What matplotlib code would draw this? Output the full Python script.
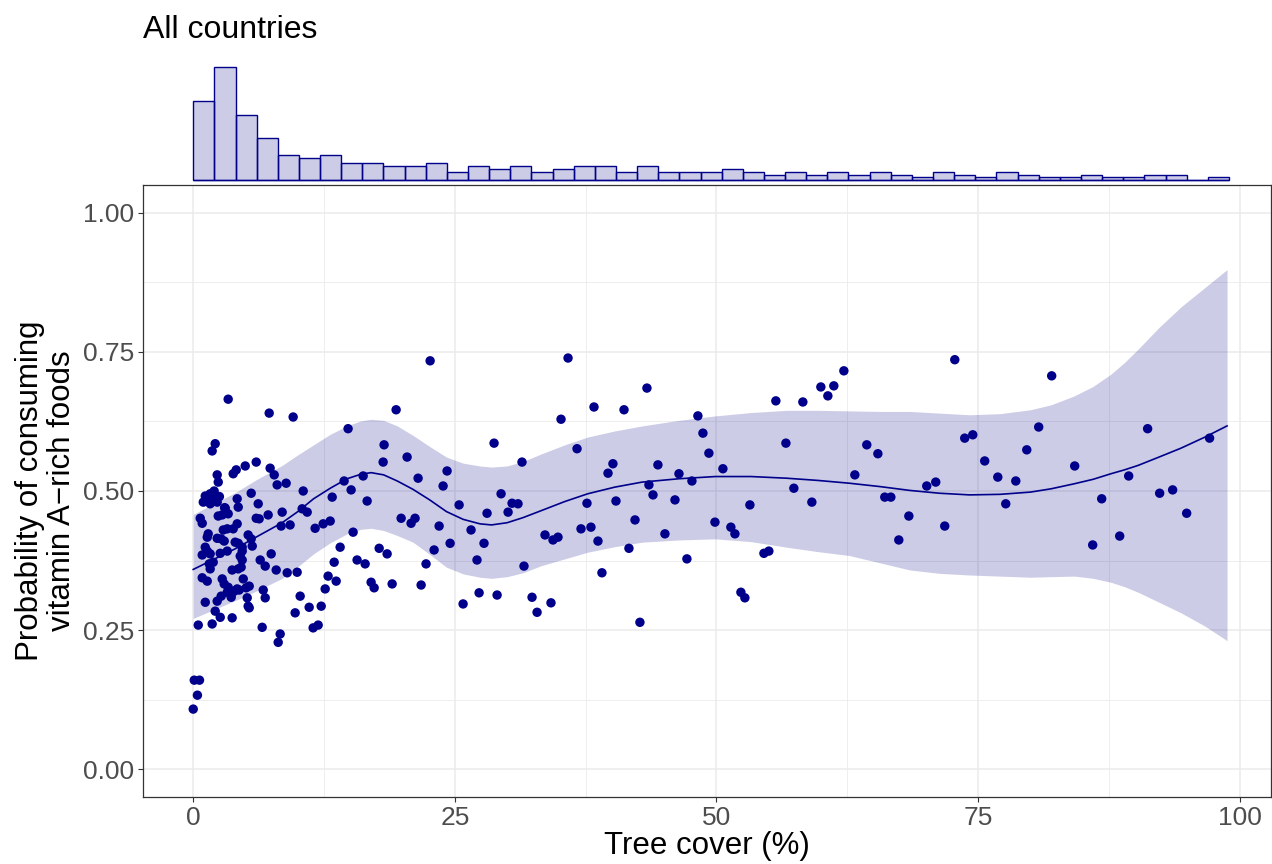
"""Tree cover vs. probability of consuming vitamin A-rich foods, with marginal histogram."""
import matplotlib

matplotlib.use("Agg")
import matplotlib.pyplot as plt
import numpy as np

plt.rcParams["font.family"] = ["Liberation Sans", "DejaVu Sans"]

DARKBLUE = "#00008B"
GRID = "#EBEBEB"
FRAME = "#333333"
TICK_TEXT = "#4D4D4D"

# scatter: tree cover (%) and probability
tree_cover = [
    0.0, 0.1, 0.6, 0.4,
    3.34, 7.26, 2.10, 1.81, 2.29, 2.39, 3.82, 4.11, 4.97, 6.02, 7.35, 7.74, 8.02,
    1.15, 1.62, 2.10, 1.43, 1.91, 2.29, 0.96, 1.62, 2.50, 2.00, 3.00,
    4.20, 4.30, 5.54, 6.21, 3.06, 2.77, 3.34, 2.39, 0.67, 0.86, 6.02, 6.30, 7.16, 8.50, 8.40,
    4.20, 3.82, 3.25, 2.87, 1.43, 1.34, 5.25, 5.54, 2.29, 2.67, 2.96, 4.01, 4.30, 4.68, 5.64,
    1.15, 1.34, 3.25, 2.58, 1.62, 0.86, 4.68, 4.49, 7.45,
    1.91, 1.62, 1.53, 4.68, 4.58, 4.30, 6.40, 6.88, 7.93, 0.86, 1.34, 3.72,
    2.77, 2.96, 3.34, 3.25, 3.63, 3.92, 4.20, 4.39, 4.78, 5.06, 5.35, 2.67, 3.63, 6.69, 6.88,
    1.15, 2.29, 5.16, 5.25, 5.35, 2.10, 2.58, 3.72, 0.48, 1.81, 6.59, 8.31, 8.12,
    22.64, 9.55, 19.39, 14.80, 18.24, 18.15, 20.44, 8.88, 10.51, 14.42, 16.24, 15.09, 21.49,
    24.26, 23.88, 13.28, 16.62, 10.41, 10.89, 9.26, 11.65, 12.42, 13.09, 25.41, 19.87, 20.82,
    21.20, 23.50, 26.55, 15.28, 14.04, 17.77, 18.53, 23.02, 24.55, 27.12, 15.66, 16.43, 13.47,
    8.98, 9.93, 12.89, 13.66, 22.25, 17.00, 17.29, 19.01, 21.78, 12.61, 10.22, 11.08, 12.23,
    9.74, 25.79, 27.32, 11.46, 11.94,
    35.82, 43.36, 38.30, 41.17, 35.15, 48.23, 48.71, 28.75, 36.68, 31.42, 49.28, 40.11, 39.64,
    44.41, 46.42, 47.66, 43.55, 43.94, 29.42, 30.47, 31.04, 30.09, 28.08, 37.63, 40.40, 46.04,
    49.86, 42.22, 37.06, 38.01, 33.62, 34.38, 34.86, 27.79, 38.68, 45.08, 41.64, 31.61, 47.18,
    39.06, 29.04, 32.38, 34.19, 32.86, 42.69,
    72.78, 62.18, 59.98, 61.22, 60.65, 55.68, 58.26, 56.64, 64.37, 65.43, 73.73, 50.62, 63.23,
    57.40, 59.12, 53.20, 66.09, 66.67, 70.10, 70.96, 51.38, 51.77, 68.39, 71.82, 67.43, 54.54,
    55.01, 52.34, 52.72,
    82.04, 74.50, 80.80, 91.21, 97.13, 75.64, 79.66, 76.89, 78.61, 84.24, 77.65, 89.40, 86.82,
    92.36, 93.60, 94.94, 85.96, 88.54,
]
probability = [
    0.108, 0.160, 0.160, 0.133,
    0.665, 0.640, 0.585, 0.572, 0.529, 0.516, 0.531, 0.538, 0.545, 0.552, 0.541, 0.529, 0.511,
    0.491, 0.495, 0.491, 0.484, 0.486, 0.480, 0.480, 0.477, 0.490, 0.500, 0.470,
    0.486, 0.471, 0.496, 0.477, 0.469, 0.457, 0.459, 0.455, 0.451, 0.442, 0.451, 0.450, 0.457, 0.462, 0.437,
    0.441, 0.432, 0.432, 0.430, 0.423, 0.417, 0.421, 0.414, 0.415, 0.414, 0.410, 0.408, 0.406, 0.399, 0.401,
    0.399, 0.392, 0.392, 0.388, 0.387, 0.385, 0.392, 0.383, 0.387,
    0.372, 0.360, 0.369, 0.376, 0.363, 0.360, 0.376, 0.365, 0.358, 0.344, 0.338, 0.358,
    0.342, 0.333, 0.327, 0.318, 0.315, 0.320, 0.324, 0.322, 0.342, 0.326, 0.329, 0.311, 0.309, 0.322, 0.308,
    0.300, 0.302, 0.308, 0.293, 0.290, 0.284, 0.273, 0.272, 0.259, 0.261, 0.255, 0.243, 0.228,
    0.734, 0.633, 0.646, 0.612, 0.583, 0.552, 0.561, 0.514, 0.500, 0.518, 0.527, 0.502, 0.523,
    0.536, 0.509, 0.489, 0.482, 0.468, 0.462, 0.439, 0.433, 0.441, 0.446, 0.475, 0.451, 0.442,
    0.451, 0.437, 0.430, 0.426, 0.399, 0.397, 0.387, 0.394, 0.406, 0.376, 0.376, 0.369, 0.372,
    0.353, 0.354, 0.347, 0.338, 0.369, 0.336, 0.326, 0.333, 0.331, 0.324, 0.311, 0.291, 0.293,
    0.281, 0.297, 0.317, 0.254, 0.259,
    0.739, 0.685, 0.651, 0.646, 0.629, 0.635, 0.604, 0.586, 0.576, 0.552, 0.568, 0.549, 0.532,
    0.547, 0.531, 0.518, 0.511, 0.493, 0.495, 0.478, 0.477, 0.462, 0.460, 0.478, 0.482, 0.484,
    0.444, 0.448, 0.432, 0.435, 0.421, 0.412, 0.417, 0.406, 0.410, 0.423, 0.397, 0.365, 0.378,
    0.353, 0.313, 0.309, 0.299, 0.282, 0.264,
    0.736, 0.716, 0.687, 0.689, 0.671, 0.662, 0.660, 0.586, 0.583, 0.567, 0.595, 0.540, 0.529,
    0.505, 0.480, 0.475, 0.489, 0.489, 0.509, 0.516, 0.435, 0.423, 0.455, 0.437, 0.412, 0.388,
    0.392, 0.318, 0.308,
    0.707, 0.601, 0.615, 0.612, 0.595, 0.554, 0.574, 0.525, 0.518, 0.545, 0.477, 0.527, 0.486,
    0.496, 0.502, 0.460, 0.403, 0.419,
]

# smoothed fit with confidence band
smooth_x = [0, 4, 6, 8.5, 10, 11.5, 13.1, 14.7, 16, 17, 18.2, 19.5, 21, 22.6, 24.2, 25.8,
            27.4, 28.5, 30, 31.5, 33.3, 35.5, 37.7, 40.3, 42.9, 46.4, 49.9, 53.3, 56.7,
            59.7, 62.7, 65.6, 68.5, 71.3, 74.2, 77.1, 80, 82, 84.2, 86, 87.7, 89, 90.3,
            92.3, 94.4, 96.7, 98.8]
smooth_fit = [0.359, 0.396, 0.417, 0.443, 0.463, 0.486, 0.505, 0.522, 0.530, 0.533, 0.529,
              0.518, 0.503, 0.484, 0.463, 0.449, 0.441, 0.439, 0.443, 0.452, 0.465, 0.481,
              0.495, 0.507, 0.516, 0.522, 0.526, 0.526, 0.523, 0.519, 0.514, 0.508, 0.501,
              0.496, 0.493, 0.494, 0.498, 0.504, 0.513, 0.521, 0.531, 0.538, 0.546, 0.561,
              0.577, 0.597, 0.617]
smooth_lo = [0.271, 0.303, 0.320, 0.343, 0.364, 0.387, 0.407, 0.423, 0.431, 0.433, 0.429,
             0.420, 0.408, 0.386, 0.363, 0.351, 0.345, 0.343, 0.346, 0.353, 0.366, 0.378,
             0.390, 0.400, 0.408, 0.412, 0.414, 0.409, 0.399, 0.391, 0.384, 0.371, 0.358,
             0.352, 0.349, 0.347, 0.345, 0.346, 0.347, 0.343, 0.336, 0.328, 0.318, 0.300,
             0.281, 0.257, 0.231]
smooth_hi = [0.458, 0.497, 0.520, 0.546, 0.565, 0.583, 0.602, 0.617, 0.626, 0.629, 0.627,
             0.617, 0.600, 0.580, 0.561, 0.550, 0.545, 0.543, 0.545, 0.553, 0.567, 0.583,
             0.597, 0.608, 0.617, 0.627, 0.635, 0.641, 0.645, 0.645, 0.644, 0.643, 0.643,
             0.640, 0.637, 0.639, 0.646, 0.655, 0.671, 0.688, 0.710, 0.731, 0.755, 0.794,
             0.831, 0.866, 0.898]

# marginal histogram counts, 49 bins from 0
hist_counts = [28, 40, 23, 15, 9, 8, 9, 6, 6, 5, 5, 6, 3, 5, 4, 5, 3, 4, 5, 5, 3, 5, 3, 3,
               3, 4, 3, 2, 3, 2, 3, 2, 3, 2, 1, 3, 2, 1, 3, 2, 1, 1, 2, 1, 1, 2, 2, 0, 1]
BIN_WIDTH = 2.02

x_ticks = [0, 25, 50, 75, 100]
y_ticks = [0.0, 0.25, 0.5, 0.75, 1.0]
y_tick_labels = ["0.00", "0.25", "0.50", "0.75", "1.00"]

W, H = 1272, 864
XLIM = (-4.8, 103.0)


def main() -> None:
    fig = plt.figure(figsize=(W / 100, H / 100), dpi=100)
    ax = fig.add_axes([143 / W, 1 - 797 / H, 1128 / W, 612 / H])
    ax_hist = fig.add_axes([143 / W, 1 - 182 / H, 1128 / W, 122 / H])

    # main panel
    ax.fill_between(smooth_x, smooth_lo, smooth_hi, color=DARKBLUE, alpha=0.2, linewidth=0, zorder=2)
    ax.plot(smooth_x, smooth_fit, color=DARKBLUE, linewidth=1.2, zorder=3)
    ax.scatter(tree_cover, probability, s=46, color=DARKBLUE, edgecolors="none", zorder=4)

    ax.set_xlim(*XLIM)
    ax.set_ylim(-0.05, 1.05)
    ax.set_xticks(x_ticks)
    ax.set_xticks([12.5, 37.5, 62.5, 87.5], minor=True)
    ax.set_yticks(y_ticks)
    ax.set_yticklabels(y_tick_labels)
    ax.set_yticks([0.125, 0.375, 0.625, 0.875], minor=True)
    ax.grid(which="major", color=GRID, linewidth=1.1)
    ax.grid(which="minor", color=GRID, linewidth=0.6)
    ax.set_axisbelow(True)
    ax.tick_params(which="major", length=3.6, width=0.8, color=FRAME,
                   labelcolor=TICK_TEXT, labelsize=19, pad=3)
    ax.tick_params(which="minor", length=0)
    for spine in ax.spines.values():
        spine.set_color(FRAME)
        spine.set_linewidth(0.9)

    fig.text(707 / W, 1 - 846 / H, "Tree cover (%)", fontsize=22.5, ha="center", va="center")
    fig.text(46 / W, 1 - 491 / H, "Probability of consuming\nvitamin A\u2212rich foods",
             fontsize=22.5, rotation=90, ha="center", va="center", multialignment="center",
             linespacing=1.05)

    # marginal histogram
    edges = np.arange(len(hist_counts) + 1) * BIN_WIDTH
    ax_hist.bar(edges[:-1], hist_counts, width=BIN_WIDTH, align="edge",
                facecolor=(0, 0, 0.545, 0.2), edgecolor=DARKBLUE, linewidth=1.0)
    # empty bins still show their bottom edge
    ax_hist.hlines(0, edges[0], edges[-1], color=DARKBLUE, linewidth=1.0)
    ax_hist.set_xlim(*XLIM)
    ax_hist.set_ylim(-0.6, 42.5)
    ax_hist.axis("off")

    fig.text(143 / W, 1 - 38 / H, "All countries", fontsize=23, ha="left", va="baseline")

    fig.savefig("out.png", dpi=100)
    plt.close(fig)


if __name__ == "__main__":
    main()
